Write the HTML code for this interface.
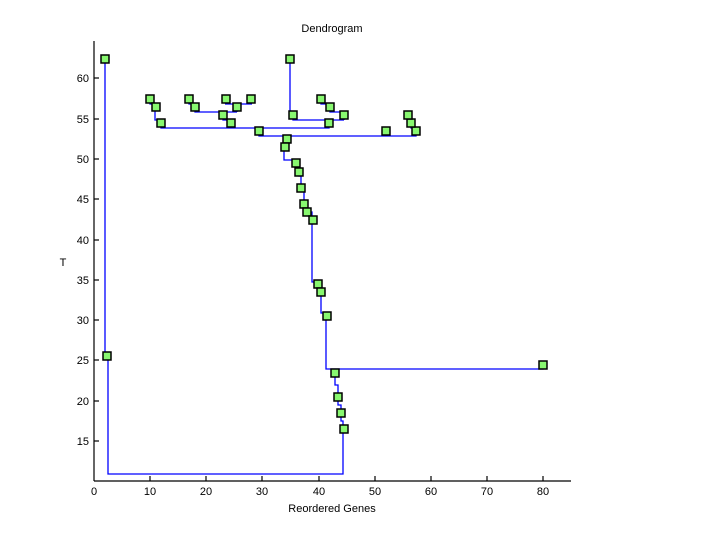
<!DOCTYPE html>
<html><head><meta charset="utf-8"><style>
html,body{margin:0;padding:0;background:#fff;}
svg{display:block;font-family:"Liberation Sans",sans-serif;}
</style></head><body>
<svg width="720" height="540" viewBox="0 0 720 540" xmlns="http://www.w3.org/2000/svg">
<rect width="720" height="540" fill="#fff"/>
<g stroke="#0000ff" stroke-width="1.3" fill="none">
<polyline points="105,59 105,356"/>
<polyline points="108,360 108,474 343,474 343,429"/>
<polyline points="290,59 290,115"/>
<polyline points="150,99 150,104 155,104 155,120 161,120 161,123"/>
<polyline points="161,123 161,128 329,128 329,123"/>
<polyline points="225,104 252,104"/>
<polyline points="237,104 237,112"/>
<polyline points="189,99 189,104 195,104 195,107"/>
<polyline points="195,107 195,112 237,112"/>
<polyline points="223,115 223,120 231,120 231,128"/>
<polyline points="321,99 321,104 330,104 330,112 344,112 344,120"/>
<polyline points="293,115 293,120 344,120"/>
<polyline points="259,131 259,136 416,136 416,131"/>
<polyline points="386,131 386,136"/>
<polyline points="408,115 408,120 411,120 411,128 416,128 416,131"/>
<polyline points="287,136 287,143 285,143 285,147 284,147 284,160 296,160 296,163"/>
<polyline points="296,163 296,168 299,168 299,176 301,176 301,188 304,188 304,204 307,204 307,212 312,212 312,282 318,282 318,284"/>
<polyline points="318,284 318,292 321,292 321,313 327,313 327,316"/>
<polyline points="326,316 326,369 543,369 543,365"/>
<polyline points="335,369 335,373 335,385 338,385 338,397 338,405 341,405 341,413 341,421 343,421 343,429"/>
</g>
<g fill="#88f870" stroke="#000" stroke-width="1.5">
<rect x="101" y="55" width="8" height="8"/>
<rect x="286" y="55" width="8" height="8"/>
<rect x="146" y="95" width="8" height="8"/>
<rect x="152" y="103" width="8" height="8"/>
<rect x="157" y="119" width="8" height="8"/>
<rect x="185" y="95" width="8" height="8"/>
<rect x="191" y="103" width="8" height="8"/>
<rect x="222" y="95" width="8" height="8"/>
<rect x="247" y="95" width="8" height="8"/>
<rect x="233" y="103" width="8" height="8"/>
<rect x="219" y="111" width="8" height="8"/>
<rect x="227" y="119" width="8" height="8"/>
<rect x="289" y="111" width="8" height="8"/>
<rect x="317" y="95" width="8" height="8"/>
<rect x="326" y="103" width="8" height="8"/>
<rect x="340" y="111" width="8" height="8"/>
<rect x="325" y="119" width="8" height="8"/>
<rect x="255" y="127" width="8" height="8"/>
<rect x="382" y="127" width="8" height="8"/>
<rect x="412" y="127" width="8" height="8"/>
<rect x="407" y="119" width="8" height="8"/>
<rect x="404" y="111" width="8" height="8"/>
<rect x="283" y="135" width="8" height="8"/>
<rect x="281" y="143" width="8" height="8"/>
<rect x="292" y="159" width="8" height="8"/>
<rect x="295" y="168" width="8" height="8"/>
<rect x="297" y="184" width="8" height="8"/>
<rect x="300" y="200" width="8" height="8"/>
<rect x="303" y="208" width="8" height="8"/>
<rect x="309" y="216" width="8" height="8"/>
<rect x="314" y="280" width="8" height="8"/>
<rect x="317" y="288" width="8" height="8"/>
<rect x="323" y="312" width="8" height="8"/>
<rect x="539" y="361" width="8" height="8"/>
<rect x="331" y="369" width="8" height="8"/>
<rect x="334" y="393" width="8" height="8"/>
<rect x="337" y="409" width="8" height="8"/>
<rect x="340" y="425" width="8" height="8"/>
<rect x="103" y="352" width="8" height="8"/>
</g>
<g stroke="#000" stroke-width="1.2">
<line x1="94" y1="41" x2="94" y2="481"/>
<line x1="94" y1="481" x2="571" y2="481"/>
<line x1="94" y1="78" x2="99" y2="78"/>
<line x1="94" y1="119" x2="99" y2="119"/>
<line x1="94" y1="159" x2="99" y2="159"/>
<line x1="94" y1="199" x2="99" y2="199"/>
<line x1="94" y1="240" x2="99" y2="240"/>
<line x1="94" y1="280" x2="99" y2="280"/>
<line x1="94" y1="320" x2="99" y2="320"/>
<line x1="94" y1="360" x2="99" y2="360"/>
<line x1="94" y1="401" x2="99" y2="401"/>
<line x1="94" y1="441" x2="99" y2="441"/>
<line x1="150" y1="476" x2="150" y2="481"/>
<line x1="206" y1="476" x2="206" y2="481"/>
<line x1="262" y1="476" x2="262" y2="481"/>
<line x1="319" y1="476" x2="319" y2="481"/>
<line x1="375" y1="476" x2="375" y2="481"/>
<line x1="431" y1="476" x2="431" y2="481"/>
<line x1="487" y1="476" x2="487" y2="481"/>
<line x1="543" y1="476" x2="543" y2="481"/>
</g>
<g font-size="11" fill="#000" text-anchor="end">
<text x="89" y="82">60</text>
<text x="89" y="123">55</text>
<text x="89" y="163">50</text>
<text x="89" y="203">45</text>
<text x="89" y="244">40</text>
<text x="89" y="284">35</text>
<text x="89" y="324">30</text>
<text x="89" y="364">25</text>
<text x="89" y="405">20</text>
<text x="89" y="445">15</text>
</g>
<g font-size="11" fill="#000" text-anchor="middle">
<text x="94" y="495">0</text>
<text x="150" y="495">10</text>
<text x="206" y="495">20</text>
<text x="262" y="495">30</text>
<text x="319" y="495">40</text>
<text x="375" y="495">50</text>
<text x="431" y="495">60</text>
<text x="487" y="495">70</text>
<text x="543" y="495">80</text>
<text x="332" y="32">Dendrogram</text>
<text x="332" y="512">Reordered Genes</text>
<text x="63" y="266">T</text>
</g>
</svg>
</body></html>
